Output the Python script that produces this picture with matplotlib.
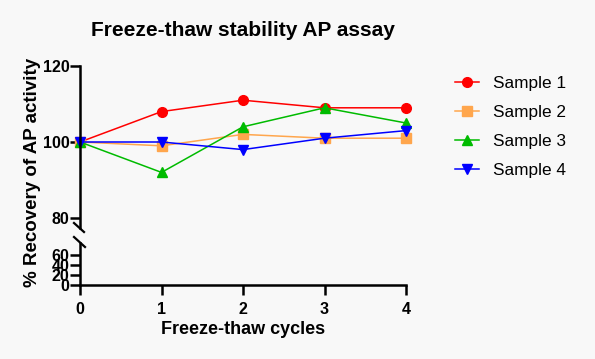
import matplotlib.pyplot as plt
import numpy as np

plt.rcParams['font.family'] = ['Liberation Sans', 'DejaVu Sans']

cycles = [0, 1, 2, 3, 4]
sample1 = [100, 108, 111, 109, 109]
sample2 = [100, 99, 102, 101, 101]
sample3 = [100, 92, 104, 109, 105]
sample4 = [100, 100, 98, 101, 103]
labels = ['Sample 1', 'Sample 2', 'Sample 3', 'Sample 4']
colors = ['#ff0000', '#ffa64d', '#00bb00', '#0000ff']
markers = ['o', 's', '^', 'v']

bg = '#f8f8f8'
fig = plt.figure(figsize=(5.95, 3.59), dpi=100, facecolor=bg)
W, H = 595, 359
L, R = 80 / W, 406 / W
ax_top = fig.add_axes([L, 1 - 228 / H, R - L, (228 - 66) / H])
ax_bot = fig.add_axes([L, 1 - 285 / H, R - L, (285 - 243) / H])

for ax in (ax_top, ax_bot):
    ax.set_facecolor('none')
    for s in ('top', 'right'):
        ax.spines[s].set_visible(False)
    ax.spines['left'].set_linewidth(1.8)
    ax.spines['bottom'].set_linewidth(1.8)
    ax.tick_params(width=1.8, length=7, labelsize=11.5, pad=0.5)
    ax.set_xlim(0, 4)

# upper segment
for y, lab, c, m in zip([sample1, sample2, sample3, sample4], labels, colors, markers):
    ax_top.plot(cycles, y, color=c, marker=m, markersize=7, linewidth=1.1, label=lab, clip_on=False)
ax_top.set_ylim(80 - (228 - 218) / 3.8, 120)
ax_top.set_yticks([80, 100, 120])
ax_top.spines['bottom'].set_visible(False)
ax_top.tick_params(axis='x', bottom=False, labelbottom=False)

# lower segment
ax_bot.set_ylim(0, 84)
ax_bot.set_yticks([0, 20, 40, 60])
ax_bot.set_xticks(cycles)
ax_bot.tick_params(axis='x', pad=5)

for ax in (ax_top, ax_bot):
    for t in ax.get_yticklabels() + ax.get_xticklabels():
        t.set_fontweight('bold')

# break marks
fig.add_artist(plt.Line2D([74 / W, 84 / W], [1 - 223 / H, 1 - 232 / H], color='black', lw=1.6))
fig.add_artist(plt.Line2D([74 / W, 85 / W], [1 - 237 / H, 1 - 247 / H], color='black', lw=1.6))

fig.text(243 / W, 1 - 31 / H, 'Freeze-thaw stability AP assay', ha='center', va='center',
         fontsize=15, fontweight='bold')
fig.text(243 / W, 1 - 330 / H, 'Freeze-thaw cycles', ha='center', va='center',
         fontsize=13, fontweight='bold')
fig.text(33 / W, 1 - 172 / H, '% Recovery of AP activity', rotation=90, ha='center', va='center',
         fontsize=13.5, fontweight='bold')

ax_top.legend(loc='upper left', bbox_to_anchor=(455 / W, 1 - 76 / H), bbox_transform=fig.transFigure,
              frameon=False, fontsize=12.4, labelspacing=0.8, handlelength=1.4, handletextpad=0.8,
              borderaxespad=0, borderpad=0)

fig.savefig('out.png', dpi=100, facecolor=bg)
